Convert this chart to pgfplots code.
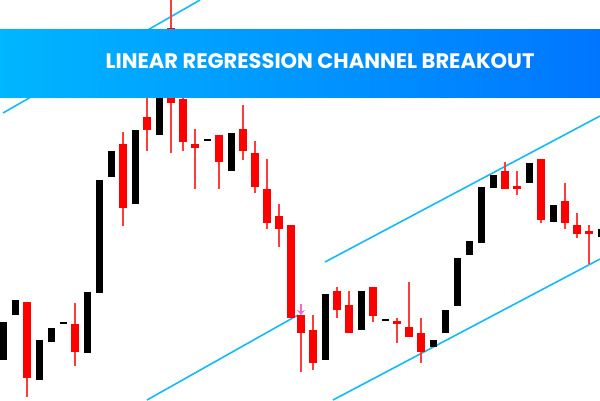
\documentclass[border=0pt]{standalone}
\usepackage{pgfplots}
\usepackage{pgfplotstable}
\pgfplotsset{compat=1.18}
\usepackage{fontspec}
\usetikzlibrary{arrows.meta}
\newfontfamily\titlefont{Poppins}
\definecolor{chan}{RGB}{20,185,250}
\definecolor{candred}{RGB}{255,0,0}
\definecolor{wick}{RGB}{255,60,60}
\definecolor{bannerL}{RGB}{0,182,255}
\definecolor{bannerR}{RGB}{0,118,255}
\definecolor{pinkarrow}{RGB}{255,100,200}

% red candles: x, body top, body bottom, wick top, wick bottom (pixel rows)
\pgfplotstableread{
x top bot wtop wbot
27 302 378 302 397
75 324 352 303 366
123 144 208 132 226
147 117 130 90 151
171 28 103 0 153
183 99 142 90 151
195 144 148 129 189
219 135 162 135 189
243 129 151 105 160
255 153 187 141 193
267 189 223 159 229
279 216 229 204 247
291 225 318 225 318
301 315 333 315 372
313 330 363 315 370
337 291 310 287 318
349 305 333 291 333
373 287 316 287 322
397 321 324 318 343
409 327 337 282 337
421 333 352 318 363
505 171 189 162 189
517 186 189 171 195
541 159 220 159 223
565 201 223 183 229
577 225 234 213 238
589 231 234 225 264
}\redc

% black candles: x, body top, body bottom
\pgfplotstableread{
x top bot
3 322 360
15 300 315
39 340 380
51 328 342
63 322 324
87 292 353
99 180 293
111 151 177
135 130 204
159 60 135
207 139 141
231 133 171
325 294 360
361 291 330
385 319 321
433 340 347
445 310 333
457 258 306
469 241 255
481 187 243
493 175 188
529 163 183
553 205 222
601 229 237
}\blackc

\begin{document}
\begin{tikzpicture}
\begin{axis}[
  scale only axis, width=600pt, height=400pt,
  xmin=0, xmax=600, ymin=0, ymax=400, y dir=reverse,
  hide axis, clip=true,
]
% channel lines
\addplot[chan, line width=1.6pt, no marks] coordinates {(3,113) (200,0)};
\addplot[chan, line width=1.6pt, no marks] coordinates {(147,400) (298,315)};
\addplot[chan, line width=1.6pt, no marks] coordinates {(325,262) (600,116)};
\addplot[chan, line width=1.6pt, no marks] coordinates {(333,400) (600,259)};
% wicks
\addplot[draw=none, mark=none,
  error bars/.cd, y dir=plus, y explicit, error mark=none,
  error bar style={line width=1.1pt, draw=wick, solid}]
  table[x=x, y=wtop, y error expr=\thisrow{wbot}-\thisrow{wtop}] {\redc};
% red bodies
\addplot[draw=none, mark=none,
  error bars/.cd, y dir=plus, y explicit, error mark=none,
  error bar style={line width=8pt, draw=candred, solid}]
  table[x=x, y=top, y error expr=\thisrow{bot}-\thisrow{top}] {\redc};
% black bodies
\addplot[draw=none, mark=none,
  error bars/.cd, y dir=plus, y explicit, error mark=none,
  error bar style={line width=7pt, draw=black, solid}]
  table[x=x, y=top, y error expr=\thisrow{bot}-\thisrow{top}] {\blackc};
% breakout arrow
\addplot[pinkarrow, line width=2pt, no marks, -{Stealth[length=5pt,width=8pt]}]
  coordinates {(301,304) (301,315)};
% banner
\fill[left color=bannerL, right color=bannerR] (axis cs:0,29) rectangle (axis cs:600,97);
\node[text=white, anchor=center, font=\titlefont\bfseries\fontsize{21}{25}\selectfont]
  at (axis cs:320,61) {LINEAR REGRESSION CHANNEL BREAKOUT};
\end{axis}
\end{tikzpicture}
\end{document}
